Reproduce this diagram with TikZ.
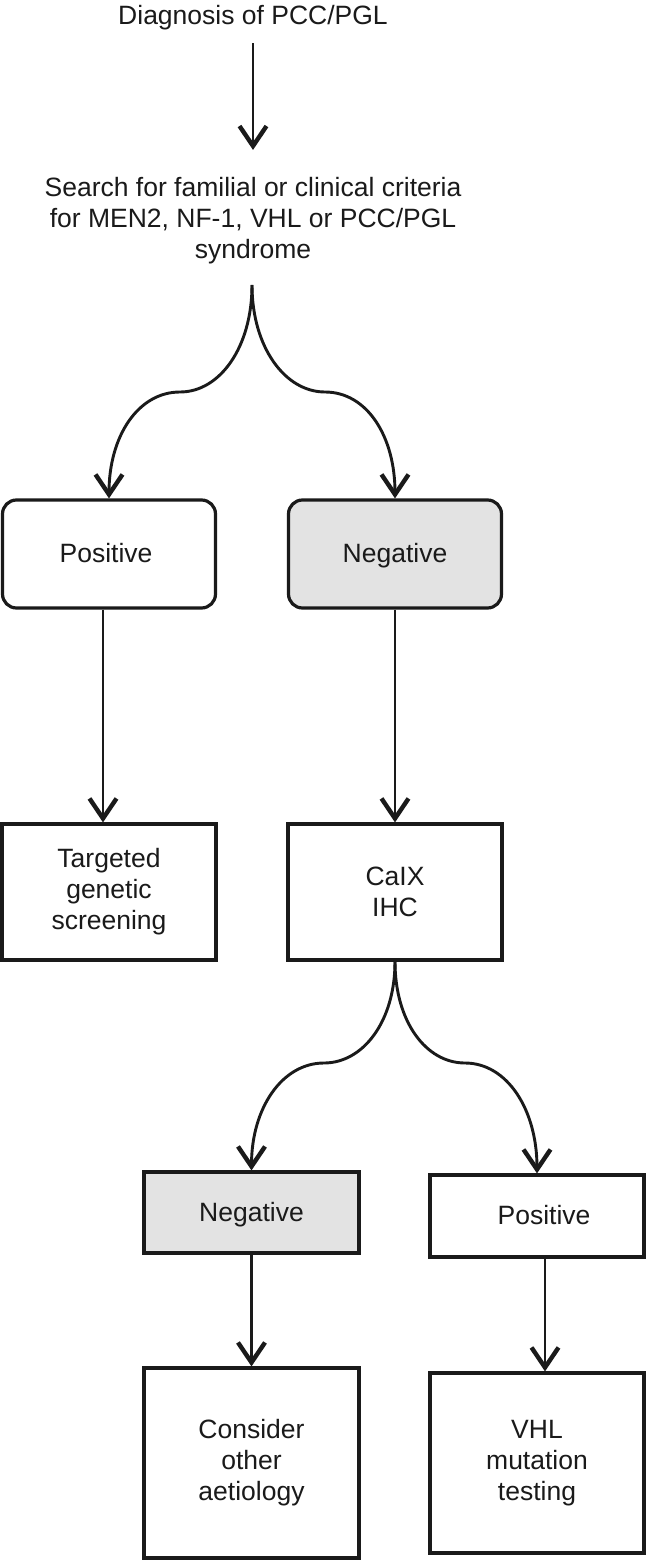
\documentclass[tikz,border=0pt]{standalone}
\usepackage{fontspec}
\setmainfont{Liberation Sans}
\usetikzlibrary{arrows.meta}
\definecolor{boxgray}{HTML}{E3E3E3}
\definecolor{ink}{HTML}{1A1A1A}
\begin{document}
\begin{tikzpicture}[x=1pt,y=-1pt,
  every node/.style={font=\fontsize{26.5}{31}\selectfont, align=center, inner sep=0pt, text=ink},
  box/.style={draw=ink, line width=3.2pt, inner sep=0pt},
  rbox/.style={box, rounded corners=14pt},
  shaded/.style={fill=boxgray},
  onel/.style={text height=19pt, text depth=2pt},
  arr/.style={draw=ink, line width=2.9pt, -{Straight Barb[length=20pt,width=27pt,line width=4.4pt]}},
]
\useasboundingbox (0,0) rectangle (647,1560);
\fill[white] (0,0) rectangle (647,1560);

% text nodes
\node (diag) at (253,18) {Diagnosis of PCC/PGL};
\node (search) at (253,221) {Search for familial or clinical criteria\\for MEN2, NF-1, VHL or PCC/PGL\\syndrome};

% boxes
\node[rbox, onel, minimum width=213pt, minimum height=108pt] (pos1) at (109,554) {Positive\hspace*{6pt}};
\node[rbox, onel, shaded, minimum width=213pt, minimum height=108pt] (neg1) at (395,554) {Negative};
\node[box, minimum width=214pt, minimum height=136pt] (target) at (109,892) {Targeted\\genetic\\screening};
\node[box, minimum width=214pt, minimum height=136pt] (calix) at (395,892) {CaIX\\IHC};
\node[box, onel, shaded, minimum width=215pt, minimum height=81pt] (neg2) at (251.5,1212.5) {Negative};
\node[box, onel, minimum width=214pt, minimum height=82pt] (pos2) at (537,1216) {\hspace*{14pt}Positive};
\node[box, minimum width=215pt, minimum height=190pt] (consider) at (251.5,1463) {Consider\\other\\aetiology};
\node[box, minimum width=214pt, minimum height=180pt] (vhl) at (537,1463) {VHL\\mutation\\testing};

% coordinates of the branch points
\coordinate (split1) at (252,285);
\coordinate (notchL1) at (180,392);
\coordinate (notchR1) at (325,392);
\coordinate (notchL2) at (324,1063);
\coordinate (notchR2) at (465,1063);

% connectors
\draw[arr, shorten <=12.5pt, shorten >=27.5pt] (diag.south) -- (search.north);

\draw[arr] (split1) .. controls +(0,62) and +(40,0) .. (notchL1)
  .. controls +(-42,0) and +(0,-62) .. (pos1.north);
\draw[arr] (split1) .. controls +(0,62) and +(-40,0) .. (notchR1)
  .. controls +(42,0) and +(0,-62) .. (neg1.north);

\draw[arr] ([xshift=-6pt]pos1.south) -- ([xshift=-6pt]target.north);
\draw[arr] (neg1.south) -- (calix.north);

\draw[arr] (calix.south) .. controls +(0,60) and +(39,0) .. (notchL2)
  .. controls +(-42,0) and +(0,-62) .. (neg2.north);
\draw[arr] (calix.south) .. controls +(0,60) and +(-39,0) .. (notchR2)
  .. controls +(42,0) and +(0,-64) .. (pos2.north);

\draw[arr] (neg2.south) -- (consider.north);
\draw[arr] ([xshift=8pt]pos2.south) -- ([xshift=8pt]vhl.north);
\end{tikzpicture}
\end{document}
